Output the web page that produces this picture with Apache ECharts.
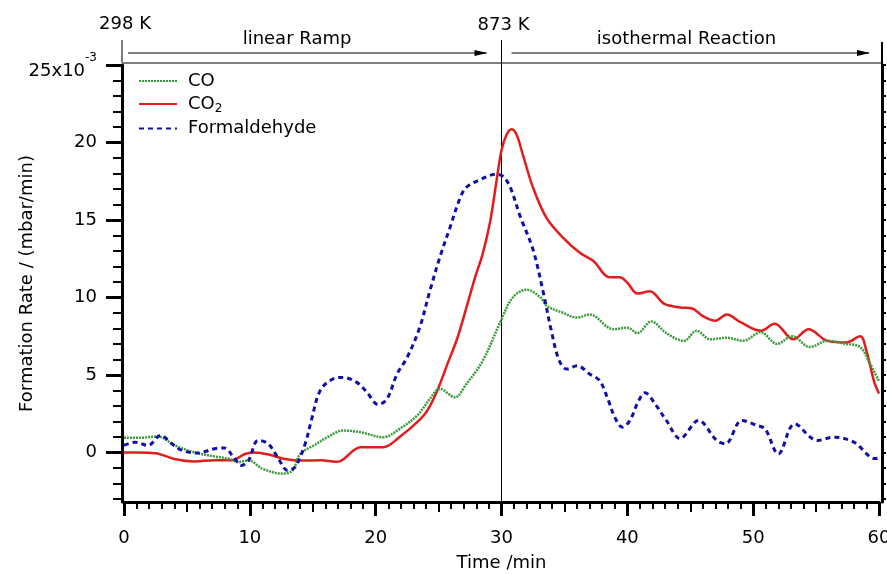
<!DOCTYPE html>
<html><head><meta charset="utf-8">
<script src="https://cdn.jsdelivr.net/npm/echarts@6/dist/echarts.min.js"></script>
<style>html,body{margin:0;padding:0;background:#fff}#c{width:887px;height:574px}</style>
</head><body><div id="c"></div>
<script>
// ---- data (time in min, rate in 10^-3 mbar/min) ----
const coTime = [0,1.4,2.7,4.05,5.6,7.2,8.3,9.1,9.9,11,12.6,13.4,14,15.2,16.2,17.4,18.8,20.6,21.9,23.3,24.3,25.1,26.3,27.2,28.5,29.9,30.9,32,33.1,33.6,34.9,36,37,38.9,40,40.8,41.9,43.1,44.5,45.5,46.6,47.9,49.2,50.6,51.9,53.1,54.5,55.9,57.4,58.5,59.3,60];
const coValues = [0.95,0.95,1.03,0.45,0,-0.26,-0.4,-0.62,-0.51,-1.05,-1.37,-1.16,-0.1,0.5,1.0,1.41,1.3,0.98,1.52,2.38,3.45,4.1,3.56,4.4,5.9,8.4,10.0,10.5,10.0,9.45,9.0,8.7,8.9,7.95,8.05,7.7,8.45,7.7,7.2,7.85,7.3,7.4,7.2,7.75,7.0,7.5,6.8,7.2,7.0,6.8,5.7,4.6];
const co2Time = [0,1,2.5,4,5.6,7.2,8.6,9.6,10.4,11.8,12.8,14.1,15.7,16.8,17.2,18.8,20.6,21.9,23.3,24.1,24.9,25.7,26.5,27.3,27.9,28.5,29.1,29.6,30,30.4,30.8,31.2,31.7,32.5,33.6,34.9,36.2,37.3,38.6,39.4,40,40.8,41.8,42.9,44.2,45.1,46,47,47.9,49,50.6,51.7,53.2,54.4,55.9,57.4,58.5,59,59.6,60];
const co2Values = [0,0,-0.05,-0.42,-0.58,-0.5,-0.5,-0.1,0,-0.2,-0.43,-0.53,-0.5,-0.6,-0.56,0.34,0.34,1.0,1.95,2.7,4.0,5.7,7.4,9.6,11.3,12.8,14.9,17.5,19.5,20.5,20.85,20.5,19.2,17.1,15.1,13.85,12.9,12.35,11.3,11.3,10.95,10.25,10.4,9.6,9.35,9.3,8.8,8.5,8.9,8.4,7.85,8.3,7.3,7.95,7.2,7.1,7.5,6.55,4.6,3.8];
const fTime = [0,0.9,1.9,2.9,3.8,4.6,5.9,7.2,8,8.7,9.35,9.9,10.65,11.45,12.2,13,13.6,14.4,14.9,15.6,16.6,17.4,18.5,19.3,20.2,20.9,21.7,22.5,23.5,24.3,25.1,25.9,26.7,27.2,28.3,29.6,30.15,30.7,31.5,32.5,33.3,34,34.6,35.2,36,37,37.8,38.5,39,39.6,40.2,40.9,41.4,42.3,43.1,44.2,45.65,47.1,47.8,49.1,50.3,50.95,52,53.3,55.1,56.4,58,59.7,60];
const fValues = [0.45,0.66,0.45,1.1,0.56,0.13,-0.04,0.24,0.28,-0.3,-0.84,-0.51,0.77,0.56,-0.3,-1.16,-0.94,0.56,2.1,4.0,4.74,4.84,4.52,3.88,3.09,3.45,5.06,6.13,8.06,10.4,12.6,14.5,16.4,17.1,17.6,17.95,17.8,17.1,15.2,13.1,10.4,7.7,5.9,5.38,5.6,5.06,4.63,3.34,2.27,1.63,2.06,3.34,3.85,3.02,2.06,0.9,2.06,0.77,0.56,2.06,1.74,1.52,-0.1,1.84,0.77,0.98,0.66,-0.4,-0.35];

const seriesNames = ['CO', 'CO2', 'Formaldehyde'];
const yLabelValues = [0, 5, 10, 15, 20, 25];
const yMinorValues = [-3,-2,-1,0,1,2,3,4,5,6,7,8,9,10,11,12,13,14,15,16,17,18,19,20,21,22,23,24,25];
const xMidValues = [5, 15, 25, 35, 45, 55];
const xAxisName = 'Time /min';
const yAxisName = 'Formation Rate / (mbar/min)';
const phaseTimes = [0, 30, 60];
const phaseTemps = ['298 K', '873 K'];
const phaseNames = ['linear Ramp', 'isothermal Reaction'];

const FONT = 'DejaVu Sans';
const pairs = (t, v) => t.map((x, i) => [x, v[i]]);
const chart = echarts.init(document.getElementById('c'));

const yBase = {type:'value', min:-3.2, max:25, splitLine:{show:false}, gridIndex:0};
const option = {
  animation: false,
  textStyle: {fontFamily: FONT},
  grid: {left:124, right:8, top:65, bottom:72, containLabel:false, outerBoundsMode:'none'},
  legend: {
    orient:'vertical', left:138, top:72, padding:0,
    itemWidth:38, itemHeight:14, itemGap:5,
    itemStyle:{opacity:0},
    data: seriesNames,
    formatter: n => n === 'CO2' ? '{a|CO}{b|2}' : '{a|' + n + '}',
    textStyle: {fontSize:18, color:'#000', padding:[0,0,0,6],
      rich: {a:{fontSize:18, lineHeight:21, color:'#000', fontFamily:FONT},
             b:{fontSize:12, lineHeight:14, verticalAlign:'bottom', padding:[6,0,0,0], color:'#000', fontFamily:FONT}}}
  },
  xAxis: [
    {type:'value', min:0, max:60, interval:10, position:'bottom',
     name:xAxisName, nameLocation:'middle', nameGap:52,
     nameTextStyle:{fontSize:18, color:'#000'},
     axisLine:{show:true, onZero:false, lineStyle:{color:'#000', width:3}},
     axisTick:{show:true, length:14, lineStyle:{color:'#000', width:3}},
     minorTick:{show:true, splitNumber:10, length:7, lineStyle:{color:'#000', width:2}},
     axisLabel:{fontSize:18, color:'#000', margin:27},
     splitLine:{show:false}, minorSplitLine:{show:false}},
    {type:'value', min:0, max:60, position:'bottom',
     axisLine:{show:false, onZero:false}, axisLabel:{show:false}, splitLine:{show:false},
     axisTick:{show:true, customValues:xMidValues, length:10, lineStyle:{color:'#000', width:2}}}
  ],
  yAxis: [
    Object.assign({}, yBase, {position:'left', offset:2,
      name:yAxisName, nameLocation:'middle', nameGap:86, nameRotate:90, nameMoveOverlap:false,
      nameTextStyle:{fontSize:18, color:'#000'},
      axisLine:{show:true, onZero:false, lineStyle:{color:'#000', width:3}},
      axisTick:{show:true, customValues:yLabelValues, length:16, lineStyle:{color:'#000', width:3}},
      axisLabel:{customValues:yLabelValues, fontSize:18, color:'#000', margin:25,
        formatter: v => v === 25 ? '{b|25x10}{s|-3}' : '{n|' + v + '}',
        rich:{n:{fontSize:18, color:'#000', fontFamily:FONT},
              b:{fontSize:18, lineHeight:16, padding:[13,0,0,0], color:'#000', fontFamily:FONT},
              s:{fontSize:12, lineHeight:12, padding:[0,0,14,0], color:'#000', fontFamily:FONT}}}}),
    Object.assign({}, yBase, {position:'left', offset:2,
      axisLine:{show:false, onZero:false}, axisLabel:{show:false},
      axisTick:{show:true, customValues:yMinorValues, length:9, lineStyle:{color:'#000', width:2}}}),
    Object.assign({}, yBase, {position:'right', offset:3,
      axisLine:{show:true, onZero:false, lineStyle:{color:'#000', width:3}}, axisLabel:{show:false},
      axisTick:{show:true, customValues:yMinorValues, length:4, lineStyle:{color:'#000', width:2}}})
  ],
  series: [
    {name:'CO', type:'line', data:pairs(coTime, coValues), symbol:'none', smooth:0.35, z:3,
     lineStyle:{color:'#3b9a3b', width:2.5, type:[2,1]}, itemStyle:{color:'#3b9a3b'}},
    {name:'CO2', type:'line', data:pairs(co2Time, co2Values), symbol:'none', smooth:0.35, z:2,
     lineStyle:{color:'#e21d1d', width:2.5, type:'solid'}, itemStyle:{color:'#e21d1d'}},
    {name:'Formaldehyde', type:'line', data:pairs(fTime, fValues), symbol:'none', smooth:0.35, z:4,
     lineStyle:{color:'#1010a6', width:3, type:[5,4]}, itemStyle:{color:'#1010a6'}}
  ]
};
chart.setOption(option);

// decorations positioned from the axes
const gx = t => chart.convertToPixel({xAxisIndex:0}, t);
const gy = v => chart.convertToPixel({yAxisIndex:0}, v);
const x0 = gx(phaseTimes[0]), x1 = gx(phaseTimes[1]), x2 = gx(phaseTimes[2]);
const yTop = gy(25), yBot = gy(-3.2);
const txt = (x, y, s) => ({type:'text', x:x, y:y, silent:true,
  style:{text:s, fill:'#000', fontSize:18, fontFamily:FONT, align:'center', verticalAlign:'middle', textAlign:'center', textVerticalAlign:'middle'}});
const ln = (xa, ya, xb, yb, c, w) => ({type:'line', silent:true, shape:{x1:xa, y1:ya, x2:xb, y2:yb}, style:{stroke:c, lineWidth:w}});
const head = (xt, y) => ({type:'polygon', silent:true, shape:{points:[[xt-13, y-3], [xt, y], [xt-13, y+3]]}, style:{fill:'#000'}});
const ay = 53;
chart.setOption({graphic: [
  ln(x0-2, yTop-2, x2+4, yTop-2, '#808080', 2),
  ln(x0-2, 40, x0-2, yTop-2, '#808080', 2),
  ln(x2+3, 42, x2+3, yTop, '#000', 2),
  ln(x1, 40, x1, yBot, '#000', 1),
  ln(x0+4, ay, x1-15, ay, '#000', 1), head(x1-14, ay),
  ln(x1+10, ay, x2-10, ay, '#000', 1), head(x2-9, ay),
  txt(x0+1, 24, phaseTemps[0]),
  txt(x1+2, 25, phaseTemps[1]),
  txt(x0+173, 39, phaseNames[0]),
  txt(x1+185, 39, phaseNames[1])
]});
</script></body></html>
